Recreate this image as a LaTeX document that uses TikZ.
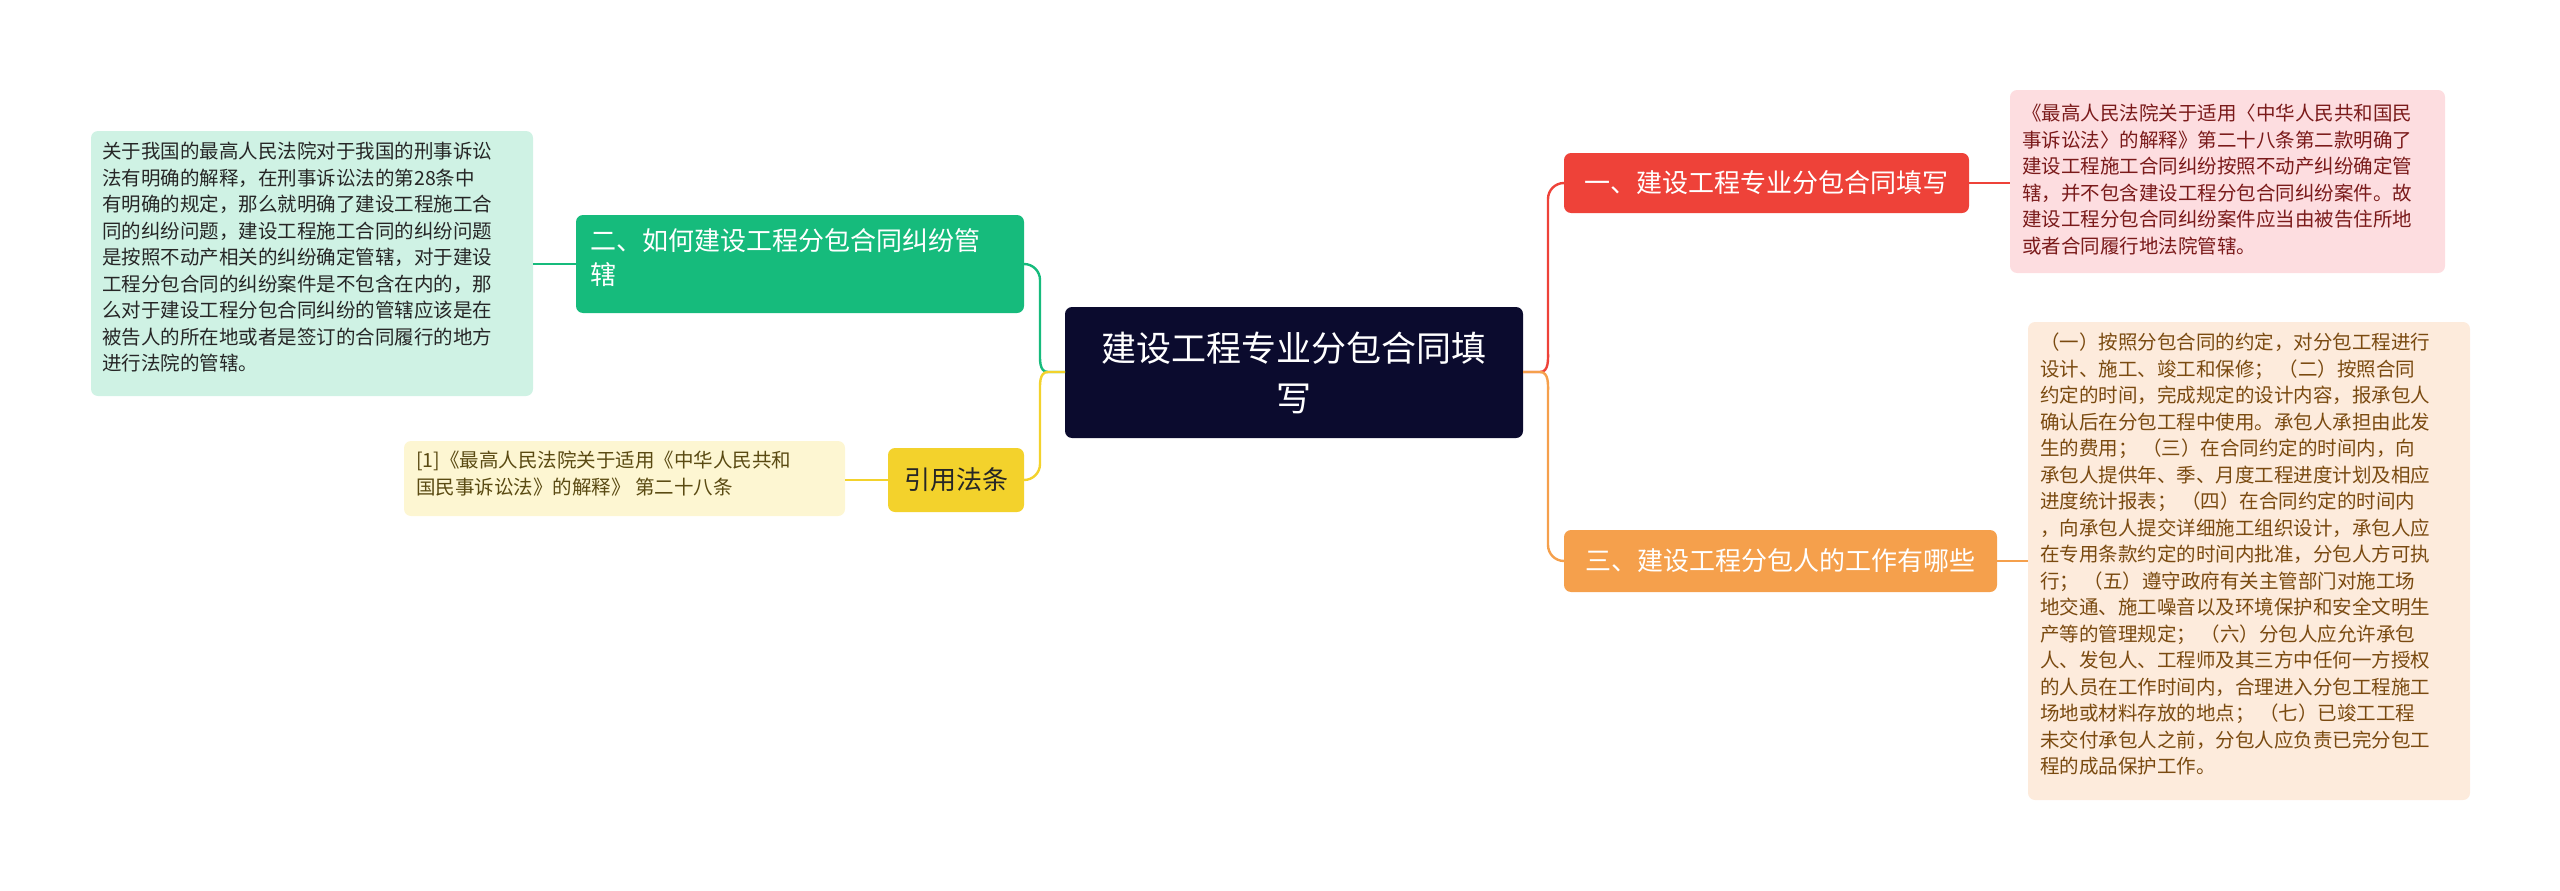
\documentclass[tikz,border=0pt]{standalone}
\usepackage{fontspec}
\setmainfont{Noto Sans CJK SC}
\begin{document}
\begin{tikzpicture}[x=1pt,y=-1pt,
  box/.style={rounded corners=7pt,inner sep=0pt,align=left,anchor=north west},
  lf/.style={font=\fontsize{19.5}{26.5}\selectfont},
  br/.style={font=\fontsize{26}{34}\selectfont,text=white},
  con/.style={line width=2.4pt}]
\definecolor{navy}{HTML}{0B0B2E}
\definecolor{redb}{HTML}{EE4239}
\definecolor{pinkl}{HTML}{FDDDE0}
\definecolor{pinkt}{HTML}{7A1A1A}
\definecolor{orb}{HTML}{F5A04C}
\definecolor{orl}{HTML}{FDEBDC}
\definecolor{ort}{HTML}{7A4A10}
\definecolor{grb}{HTML}{16BB7C}
\definecolor{grl}{HTML}{CFF2E4}
\definecolor{yeb}{HTML}{F3D22C}
\definecolor{yel}{HTML}{FDF6D2}
\definecolor{yet}{HTML}{5A4A12}
\useasboundingbox (0,0) rectangle (2560,891);
% root
\fill[navy,rounded corners=7pt] (1065,307) rectangle (1523,438);
\node[font=\fontsize{35}{50}\selectfont,text=white,align=center] (root) at (1294,372.5) {建设工程专业分包合同填\\写};
\coordinate (rootR) at (1523,372);
\coordinate (rootL) at (1065,372);
% branch 1
\fill[redb,rounded corners=7pt] (1564,153) rectangle (1969,213);
\node[br] (b1) at (1766.5,183) {一、建设工程专业分包合同填写};
\coordinate (b1L) at (1564,183);
\coordinate (b1R) at (1969,183);
\fill[pinkl,rounded corners=7pt] (2010,90) rectangle (2445,273);
\node[box,lf,text=pinkt] (l1) at (2022,104) {《最高人民法院关于适用〈中华人民共和国民\\事诉讼法〉的解释》第二十八条第二款明确了\\建设工程施工合同纠纷按照不动产纠纷确定管\\辖，并不包含建设工程分包合同纠纷案件。故\\建设工程分包合同纠纷案件应当由被告住所地\\或者合同履行地法院管辖。};
\coordinate (l1L) at (2010,183);
% branch 3
\fill[orb,rounded corners=7pt] (1564,530) rectangle (1997,592);
\node[br] (b3) at (1780.5,561) {三、建设工程分包人的工作有哪些};
\coordinate (b3L) at (1564,561);
\coordinate (b3R) at (1997,561);
\fill[orl,rounded corners=7pt] (2028,322) rectangle (2470,800);
\node[box,lf,text=ort] (l3) at (2040,333) {（一）按照分包合同的约定，对分包工程进行\\设计、施工、竣工和保修；\ （二）按照合同\\约定的时间，完成规定的设计内容，报承包人\\确认后在分包工程中使用。承包人承担由此发\\生的费用；\ （三）在合同约定的时间内，向\\承包人提供年、季、月度工程进度计划及相应\\进度统计报表；\ （四）在合同约定的时间内\\，向承包人提交详细施工组织设计，承包人应\\在专用条款约定的时间内批准，分包人方可执\\行；\ （五）遵守政府有关主管部门对施工场\\地交通、施工噪音以及环境保护和安全文明生\\产等的管理规定；\ （六）分包人应允许承包\\人、发包人、工程师及其三方中任何一方授权\\的人员在工作时间内，合理进入分包工程施工\\场地或材料存放的地点；\ （七）已竣工工程\\未交付承包人之前，分包人应负责已完分包工\\程的成品保护工作。};
\coordinate (l3L) at (2028,561);
% branch 2
\fill[grb,rounded corners=7pt] (576,215) rectangle (1024,313);
\node[box,br] (b2) at (590,228) {二、如何建设工程分包合同纠纷管\\辖};
\coordinate (b2R) at (1024,264);
\coordinate (b2L) at (576,264);
\fill[grl,rounded corners=7pt] (91,131) rectangle (533,396);
\node[box,lf,text=black!85] (l2) at (102,142) {关于我国的最高人民法院对于我国的刑事诉讼\\法有明确的解释，在刑事诉讼法的第28条中\\有明确的规定，那么就明确了建设工程施工合\\同的纠纷问题，建设工程施工合同的纠纷问题\\是按照不动产相关的纠纷确定管辖，对于建设\\工程分包合同的纠纷案件是不包含在内的，那\\么对于建设工程分包合同纠纷的管辖应该是在\\被告人的所在地或者是签订的合同履行的地方\\进行法院的管辖。};
\coordinate (l2R) at (533,264);
% branch 4
\fill[yeb,rounded corners=7pt] (888,448) rectangle (1024,512);
\node[font=\fontsize{26}{34}\selectfont,text=black!85] (b4) at (956,480) {引用法条};
\coordinate (b4R) at (1024,480);
\coordinate (b4L) at (888,480);
\fill[yel,rounded corners=7pt] (404,441) rectangle (845,516);
\node[box,lf,text=yet] (l4) at (416,451) {[1]《最高人民法院关于适用《中华人民共和\\国民事诉讼法》的解释》 第二十八条};
\coordinate (l4R) at (845,480);
% connectors
\draw[con,redb] (rootR) -- (1540,372) to[out=0,in=-90] (1548,350) -- (1548,199) to[out=90,in=180] (b1L);
\draw[con,orb] (rootR) -- (1540,372) to[out=0,in=90] (1548,394) -- (1548,545) to[out=-90,in=180] (b3L);
\draw[con,redb] (b1R) -- (l1L);
\draw[con,orb] (b3R) -- (l3L);
\draw[con,grb] (rootL) -- (1048,372) to[out=180,in=-90] (1040,350) -- (1040,280) to[out=90,in=0] (b2R);
\draw[con,yeb] (rootL) -- (1048,372) to[out=180,in=90] (1040,394) -- (1040,464) to[out=-90,in=0] (b4R);
\draw[con,grb] (b2L) -- (l2R);
\draw[con,yeb] (b4L) -- (l4R);
\end{tikzpicture}
\end{document}
